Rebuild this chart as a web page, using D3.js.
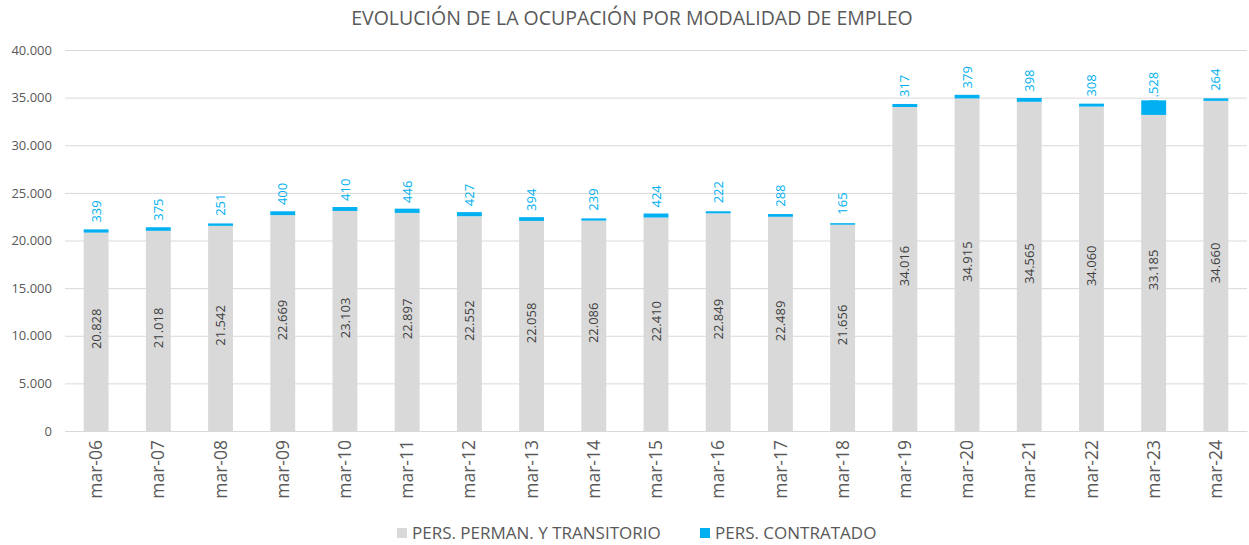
<!DOCTYPE html>
<html><head><meta charset="utf-8">
<script src="https://cdn.jsdelivr.net/npm/d3@7"></script>
<style>body{margin:0;background:#fff;}text{font-family:"Open Sans",sans-serif;}</style>
</head><body><svg id="c" width="1249" height="545"></svg>
<script>
const categories = ["mar-06","mar-07","mar-08","mar-09","mar-10","mar-11","mar-12","mar-13","mar-14","mar-15","mar-16","mar-17","mar-18","mar-19","mar-20","mar-21","mar-22","mar-23","mar-24"];
const permanente = [20828,21018,21542,22669,23103,22897,22552,22058,22086,22410,22849,22489,21656,34016,34915,34565,34060,33185,34660];
const contratado = [339,375,251,400,410,446,427,394,239,424,222,288,165,317,379,398,308,1528,264];
const yTicks = [0,5000,10000,15000,20000,25000,30000,35000,40000];
const seriesNames = ["PERS. PERMAN. Y TRANSITORIO","PERS. CONTRATADO"];
const colors = ["#D9D9D9","#00B0F0"];

const svg = d3.select("#c");
const fmt = v => d3.format(",")(v).replace(/,/g,".");
const x = d3.scaleBand().domain(categories).range([65,1247]).paddingInner(0.6).paddingOuter(0.3);
const y = d3.scaleLinear().domain([0,40000]).range([431,50]);

svg.append("text").attr("x",632).attr("y",25).attr("text-anchor","middle")
  .attr("font-size",19.5).attr("fill","#595959").text("EVOLUCIÓN DE LA OCUPACIÓN POR MODALIDAD DE EMPLEO");

const ga = svg.append("g").attr("transform","translate(65,0)")
  .call(d3.axisLeft(y).tickValues(yTicks).tickSize(-1182).tickFormat(fmt));
ga.select(".domain").remove();
ga.selectAll(".tick line").attr("stroke","#D9D9D9");
ga.selectAll(".tick text").attr("x",-13).attr("font-size",13).attr("fill","#595959").attr("font-family","Open Sans");

const gx = svg.append("g").attr("transform","translate(0,431)")
  .call(d3.axisBottom(x).tickSize(0));
gx.select(".domain").attr("stroke","#D9D9D9");
gx.selectAll(".tick text").attr("transform","rotate(-90)").attr("text-anchor","end")
  .attr("x",-9).attr("y",0).attr("dy","0.35em").attr("font-size",17.5).attr("fill","#595959").attr("font-family","Open Sans");

const data = categories.map((c,i)=>({c,p:permanente[i],k:contratado[i]}));
svg.append("g").selectAll("rect").data(data).join("rect")
  .attr("x",d=>x(d.c)).attr("width",x.bandwidth())
  .attr("y",d=>y(d.p)).attr("height",d=>y(0)-y(d.p)).attr("fill",colors[0]);
svg.append("g").selectAll("rect").data(data).join("rect")
  .attr("x",d=>x(d.c)).attr("width",x.bandwidth())
  .attr("y",d=>y(d.p+d.k)).attr("height",d=>y(d.p)-y(d.p+d.k)).attr("fill",colors[1]);

svg.append("g").selectAll("text").data(data).join("text")
  .attr("transform",d=>`translate(${x(d.c)+x.bandwidth()/2},${(y(0)+y(d.p))/2-3}) rotate(-90)`)
  .attr("text-anchor","middle").attr("dy","0.35em").attr("font-size",13).attr("fill","#404040").text(d=>fmt(d.p));
svg.append("g").selectAll("text").data(data).join("text")
  .attr("transform",d=>`translate(${x(d.c)+x.bandwidth()/2},${y(d.p)-10}) rotate(-90)`)
  .attr("text-anchor","start").attr("dy","0.35em").attr("font-size",13).attr("fill","#00B0F0").text(d=>fmt(d.k));

const leg = svg.append("g");
const lx = [397,700];
seriesNames.forEach((n,i)=>{
  leg.append("rect").attr("x",lx[i]).attr("y",528).attr("width",10).attr("height",10).attr("fill",colors[i]);
  leg.append("text").attr("x",lx[i]+15).attr("y",533).attr("dy","0.35em").attr("font-size",17).attr("fill","#595959").text(n);
});
</script></body></html>
